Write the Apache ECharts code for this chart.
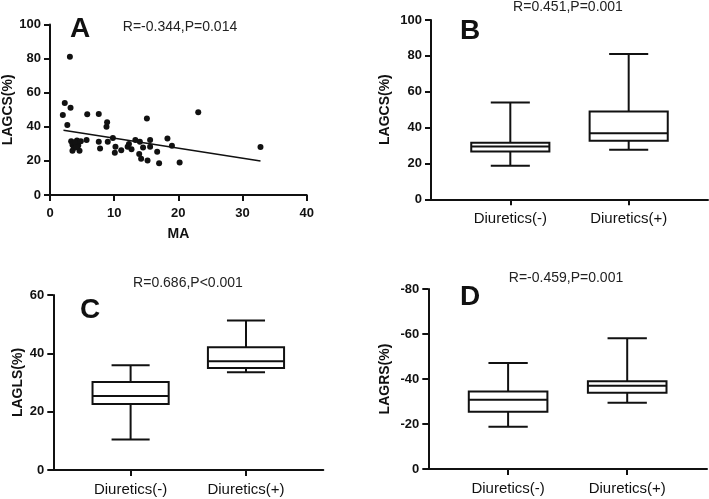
<!DOCTYPE html>
<html>
<head>
<meta charset="utf-8">
<script src="https://cdn.jsdelivr.net/npm/echarts@6/dist/echarts.min.js"></script>
<style>html,body{margin:0;padding:0;background:#fff}#c{width:709px;height:499px}</style>
</head>
<body>
<div id="c"></div>
<script>
// ---- Data ----
const maValues = [3.1,2.3,3.2,2.0,2.7,5.8,7.6,8.9,8.8,15.1,23.1,32.8,20.2,17.0,15.2,14.2,16.7,19.0,18.3,15.6,15.6,14.5,13.9,14.0,13.3,12.7,12.1,12.3,11.1,10.1,10.2,9.8,9.0,7.8,7.6,5.7,3.3,3.5,3.7,3.5,4.0,4.2,4.4,4.6,3.9,4.8,4.1];
const lagcsValues = [81.1,53.9,51.2,46.9,41.0,47.3,47.5,42.6,40.0,44.9,48.6,28.1,19.1,18.6,20.3,21.3,25.4,28.9,33.2,32.2,28.3,27.9,24.0,31.3,32.2,26.8,28.3,29.9,26.2,24.8,28.3,33.4,31.3,27.3,31.3,32.2,31.5,29.5,27.5,26.0,30.0,32.0,29.0,26.0,31.0,31.5,28.0];
const fitLineX = [2.1, 32.8];
const fitLineY = [38.0, 19.9];

const groups = ['Diuretics(-)', 'Diuretics(+)'];
// [low, q1, median, q3, high]
const lagcsBox = [[18.7, 26.6, 29.5, 31.6, 54.0], [27.7, 32.7, 36.8, 48.9, 81.0]];
const laglsBox = [[10.5, 22.6, 25.4, 30.2, 35.9], [33.5, 35.0, 37.3, 42.1, 51.3]];
const lagrsBox = [[-18.8, -25.5, -30.8, -34.4, -47.1], [-29.5, -33.9, -37.0, -39.0, -58.1]];

const yTicksA = [0, 100, 20];
const xTicksA = [0, 40, 10];
const yTicksB = [0, 100, 20];
const yTicksC = [0, 60, 20];
const yTicksD = [-80, 0, 20];

const panelLetters = ['A', 'B', 'C', 'D'];
const statTexts = ['R=-0.344,P=0.014', 'R=0.451,P=0.001', 'R=0.686,P<0.001', 'R=-0.459,P=0.001'];

// ---- Chart ----
const FONT = 'Liberation Sans, Arial, sans-serif';
const BLACK = '#111';

function boxData(arr) {
  return arr.map((d, i) => [i + 1].concat(d));
}

function renderBox(params, api) {
  const x = api.value(0);
  const low = api.coord([x, api.value(1)]);
  const q1 = api.coord([x, api.value(2)]);
  const med = api.coord([x, api.value(3)]);
  const q3 = api.coord([x, api.value(4)]);
  const high = api.coord([x, api.value(5)]);
  const bw = api.size([0.66, 0])[0] / 2;
  const cw = api.size([0.33, 0])[0] / 2;
  const cx = low[0];
  const st = { stroke: BLACK, lineWidth: 2, fill: null };
  const top = Math.min(q1[1], q3[1]);
  const h = Math.abs(q1[1] - q3[1]);
  return {
    type: 'group',
    children: [
      { type: 'line', shape: { x1: cx, y1: high[1], x2: cx, y2: q3[1] }, style: st },
      { type: 'line', shape: { x1: cx, y1: q1[1], x2: cx, y2: low[1] }, style: st },
      { type: 'line', shape: { x1: cx - cw, y1: high[1], x2: cx + cw, y2: high[1] }, style: st },
      { type: 'line', shape: { x1: cx - cw, y1: low[1], x2: cx + cw, y2: low[1] }, style: st },
      { type: 'rect', shape: { x: cx - bw, y: top, width: bw * 2, height: h }, style: { stroke: BLACK, lineWidth: 2, fill: '#fff' } },
      { type: 'line', shape: { x1: cx - bw, y1: med[1], x2: cx + bw, y2: med[1] }, style: st }
    ]
  };
}

const axisLineStyle = { show: true, lineStyle: { color: BLACK, width: 2 } };
const axisTickStyle = { show: true, length: 6, lineStyle: { color: BLACK, width: 2 } };
const numLabel = { color: BLACK, fontFamily: FONT, fontWeight: 'bold', fontSize: 13 };

function yAxisFor(grid, ticks, name, gap, inverse) {
  return {
    gridIndex: grid, type: 'value', min: ticks[0], max: ticks[1], interval: ticks[2], inverse: !!inverse,
    name: name, nameLocation: 'middle', nameGap: gap, nameRotate: 90,
    nameTextStyle: { color: BLACK, fontFamily: FONT, fontWeight: 'bold', fontSize: 14 },
    axisLine: axisLineStyle, axisTick: axisTickStyle,
    axisLabel: Object.assign({ margin: 9 }, numLabel),
    splitLine: { show: false }
  };
}

function xCatAxis(grid) {
  return {
    gridIndex: grid, type: 'value', min: 0.33, max: 2.67,
    axisLine: axisLineStyle,
    axisTick: Object.assign({ customValues: [1, 2] }, axisTickStyle),
    axisLabel: {
      customValues: [1, 2], margin: 12,
      color: BLACK, fontFamily: FONT, fontSize: 15,
      formatter: v => groups[Math.round(v) - 1] || ''
    },
    splitLine: { show: false }
  };
}

const letterPos = [[70, 15], [460, 17], [80, 296], [460, 283]];
const statPos = [[180, 27], [568, 7], [188, 283], [566, 278.5]];

const graphics = [];
panelLetters.forEach((l, i) => {
  graphics.push({ type: 'text', left: letterPos[i][0], top: letterPos[i][1],
    style: { text: l, font: 'bold 28px ' + FONT, fill: BLACK } });
});
statTexts.forEach((t, i) => {
  graphics.push({ type: 'text', x: statPos[i][0], y: statPos[i][1],
    style: { text: t, font: '14px ' + FONT, fill: '#222', align: 'center', verticalAlign: 'middle' } });
});

const option = {
  animation: false,
  backgroundColor: '#fff',
  grid: [
    { left: 49.3, top: 24.5, width: 257.4, height: 170.5 },
    { left: 431, top: 20, width: 277, height: 179.3 },
    { left: 53.3, top: 295, width: 270, height: 175 },
    { left: 428.3, top: 289, width: 278.7, height: 180 }
  ],
  xAxis: [
    {
      gridIndex: 0, type: 'value', min: xTicksA[0], max: xTicksA[1], interval: xTicksA[2],
      name: 'MA', nameLocation: 'middle', nameGap: 32,
      nameTextStyle: { color: BLACK, fontFamily: FONT, fontWeight: 'bold', fontSize: 14 },
      axisLine: axisLineStyle, axisTick: axisTickStyle,
      axisLabel: Object.assign({ margin: 12 }, numLabel),
      splitLine: { show: false }
    },
    xCatAxis(1), xCatAxis(2), xCatAxis(3)
  ],
  yAxis: [
    yAxisFor(0, yTicksA, 'LAGCS(%)', 35),
    yAxisFor(1, yTicksB, 'LAGCS(%)', 39),
    yAxisFor(2, yTicksC, 'LAGLS(%)', 28),
    yAxisFor(3, yTicksD, 'LAGRS(%)', 36, true)
  ],
  series: [
    {
      type: 'scatter', xAxisIndex: 0, yAxisIndex: 0,
      data: maValues.map((x, i) => [x, lagcsValues[i]]),
      symbolSize: 6, itemStyle: { color: BLACK, opacity: 1 }
    },
    {
      type: 'line', xAxisIndex: 0, yAxisIndex: 0,
      data: fitLineX.map((x, i) => [x, fitLineY[i]]),
      symbol: 'none', lineStyle: { color: BLACK, width: 1.5 }
    },
    { type: 'custom', xAxisIndex: 1, yAxisIndex: 1, data: boxData(lagcsBox), renderItem: renderBox },
    { type: 'custom', xAxisIndex: 2, yAxisIndex: 2, data: boxData(laglsBox), renderItem: renderBox },
    { type: 'custom', xAxisIndex: 3, yAxisIndex: 3, data: boxData(lagrsBox), renderItem: renderBox }
  ],
  graphic: graphics
};

const chart = echarts.init(document.getElementById('c'), null, { renderer: 'canvas' });
chart.setOption(option);
</script>
</body>
</html>
